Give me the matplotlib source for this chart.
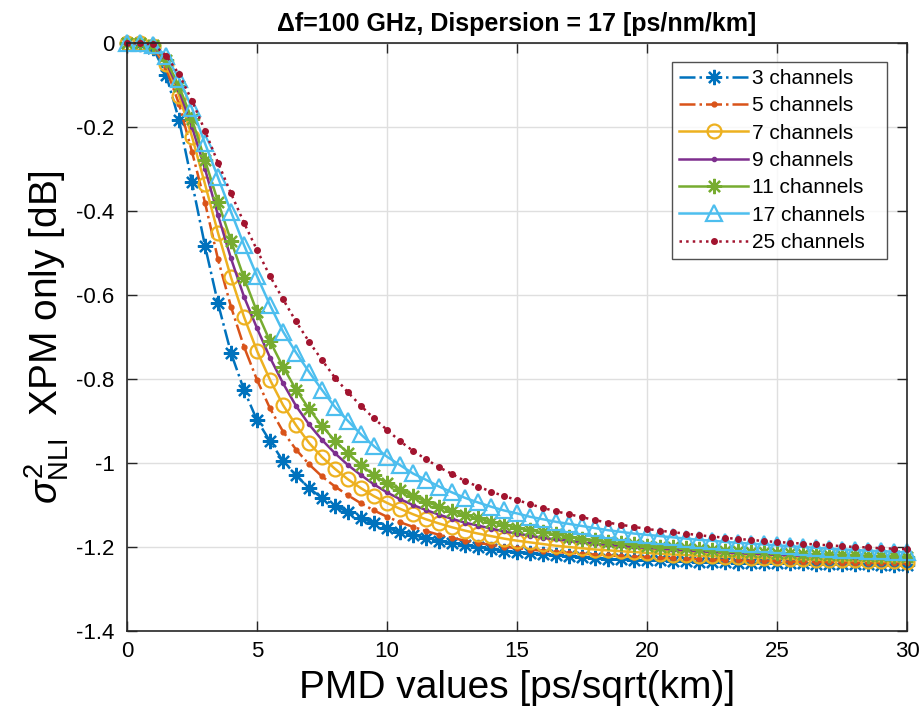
import numpy as np
import matplotlib
matplotlib.use("Agg")
import matplotlib.pyplot as plt

plt.rcParams['font.family'] = ['Liberation Sans', 'DejaVu Sans']
plt.rcParams['mathtext.fontset'] = 'custom'
plt.rcParams['mathtext.rm'] = 'Liberation Sans'
plt.rcParams['mathtext.it'] = 'Liberation Sans:italic'

# PMD values, sampled every 0.5 ps/sqrt(km)
pmd = np.arange(0, 30.5, 0.5)

ch3 = [0, -0.002, -0.012, -0.075, -0.183, -0.332, -0.483, -0.62, -0.738, -0.826,
       -0.898, -0.948, -0.995, -1.029, -1.06, -1.083, -1.102, -1.117, -1.131, -1.143,
       -1.155, -1.164, -1.171, -1.179, -1.186, -1.19, -1.195, -1.2, -1.205, -1.209,
       -1.212, -1.214, -1.217, -1.22, -1.222, -1.224, -1.226, -1.228, -1.229, -1.23,
       -1.231, -1.232, -1.233, -1.234, -1.235, -1.235, -1.236, -1.237, -1.237, -1.238,
       -1.238, -1.239, -1.239, -1.24, -1.24, -1.241, -1.241, -1.241, -1.242, -1.242, -1.242]
ch5 = [0, -0.001, -0.008, -0.06, -0.145, -0.259, -0.38, -0.515, -0.628, -0.723,
       -0.802, -0.87, -0.925, -0.968, -1.003, -1.032, -1.056, -1.077, -1.096, -1.113,
       -1.128, -1.141, -1.152, -1.162, -1.171, -1.178, -1.185, -1.19, -1.195, -1.199,
       -1.203, -1.206, -1.209, -1.212, -1.214, -1.216, -1.218, -1.22, -1.222, -1.223,
       -1.224, -1.226, -1.227, -1.228, -1.229, -1.23, -1.231, -1.232, -1.233, -1.233,
       -1.234, -1.235, -1.235, -1.236, -1.236, -1.237, -1.237, -1.238, -1.238, -1.239, -1.239]
ch7 = [0, -0.001, -0.007, -0.05, -0.125, -0.223, -0.336, -0.452, -0.558, -0.652,
       -0.733, -0.802, -0.862, -0.91, -0.952, -0.986, -1.014, -1.039, -1.06, -1.079,
       -1.095, -1.109, -1.122, -1.134, -1.144, -1.153, -1.161, -1.168, -1.174, -1.18,
       -1.185, -1.189, -1.193, -1.197, -1.2, -1.203, -1.206, -1.208, -1.21, -1.212,
       -1.214, -1.216, -1.218, -1.219, -1.221, -1.222, -1.223, -1.224, -1.225, -1.226,
       -1.227, -1.228, -1.229, -1.23, -1.231, -1.232, -1.232, -1.233, -1.234, -1.234, -1.235]
ch9 = [0, -0.001, -0.006, -0.045, -0.113, -0.2, -0.3, -0.41, -0.513, -0.604,
       -0.679, -0.749, -0.81, -0.864, -0.908, -0.945, -0.977, -1.005, -1.029, -1.051,
       -1.07, -1.086, -1.1, -1.112, -1.123, -1.133, -1.142, -1.149, -1.156, -1.163,
       -1.168, -1.173, -1.178, -1.182, -1.185, -1.189, -1.192, -1.195, -1.197, -1.2,
       -1.202, -1.204, -1.206, -1.208, -1.21, -1.212, -1.213, -1.215, -1.216, -1.217,
       -1.219, -1.22, -1.221, -1.222, -1.223, -1.224, -1.225, -1.226, -1.227, -1.227, -1.228]
ch11 = [0, -0.001, -0.005, -0.04, -0.103, -0.182, -0.279, -0.378, -0.471, -0.559,
        -0.64, -0.71, -0.771, -0.825, -0.871, -0.912, -0.947, -0.977, -1.005, -1.029,
        -1.048, -1.064, -1.079, -1.092, -1.104, -1.114, -1.124, -1.132, -1.14, -1.147,
        -1.154, -1.16, -1.165, -1.17, -1.175, -1.18, -1.184, -1.188, -1.191, -1.194,
        -1.197, -1.199, -1.201, -1.203, -1.205, -1.207, -1.209, -1.21, -1.212, -1.213,
        -1.214, -1.215, -1.216, -1.217, -1.218, -1.219, -1.22, -1.221, -1.222, -1.222, -1.223]
ch17 = [0, -0.001, -0.004, -0.03, -0.085, -0.155, -0.239, -0.32, -0.402, -0.481,
        -0.555, -0.624, -0.687, -0.737, -0.783, -0.826, -0.867, -0.9, -0.932, -0.96,
        -0.985, -1.005, -1.025, -1.04, -1.056, -1.07, -1.083, -1.094, -1.104, -1.113,
        -1.12, -1.128, -1.134, -1.14, -1.145, -1.15, -1.155, -1.16, -1.164, -1.168,
        -1.171, -1.174, -1.177, -1.18, -1.183, -1.185, -1.188, -1.19, -1.192, -1.194,
        -1.196, -1.198, -1.2, -1.202, -1.204, -1.206, -1.207, -1.209, -1.21, -1.211, -1.213]
ch25 = [0, -0.001, -0.003, -0.03, -0.074, -0.137, -0.209, -0.285, -0.358, -0.428,
        -0.493, -0.555, -0.61, -0.663, -0.711, -0.755, -0.797, -0.832, -0.864, -0.894,
        -0.921, -0.948, -0.971, -0.991, -1.01, -1.026, -1.043, -1.056, -1.068, -1.079,
        -1.088, -1.098, -1.107, -1.115, -1.122, -1.129, -1.136, -1.142, -1.147, -1.152,
        -1.157, -1.161, -1.165, -1.168, -1.172, -1.175, -1.178, -1.181, -1.183, -1.186,
        -1.188, -1.19, -1.192, -1.194, -1.196, -1.198, -1.2, -1.201, -1.203, -1.204, -1.205]

labels = ['3 channels', '5 channels', '7 channels', '9 channels',
          '11 channels', '17 channels', '25 channels']

fig = plt.figure(figsize=(9.19, 7.13), dpi=100)
ax = fig.add_axes([127/919, 1-631/713, 780/919, 588/713])

asterisk = (8, 2, 0)
lw = 1.8
ax.plot(pmd, ch3, color='#0072BD', ls='-.', lw=lw, marker=asterisk, ms=11, mew=1.6, label=labels[0], clip_on=False)
ax.plot(pmd, ch5, color='#D95319', ls='-.', lw=lw, marker='.', ms=7, label=labels[1], clip_on=False)
ax.plot(pmd, ch7, color='#EDB120', ls='-', lw=lw, marker='o', ms=10, mfc='none', mew=1.6, label=labels[2], clip_on=False)
ax.plot(pmd, ch9, color='#7E2F8E', ls='-', lw=lw, marker='.', ms=6, label=labels[3], clip_on=False)
ax.plot(pmd, ch11, color='#77AC30', ls='-', lw=lw, marker=asterisk, ms=11, mew=1.6, label=labels[4], clip_on=False)
ax.plot(pmd, ch17, color='#4DBEEE', ls='-', lw=lw, marker='^', ms=12, mfc='none', mew=1.6, label=labels[5], clip_on=False)
ax.plot(pmd, ch25, color='#A2142F', ls=':', lw=lw, marker='.', ms=8, label=labels[6], clip_on=False)

ax.set_xlim(0, 30)
ax.set_ylim(-1.4, 0)
ax.set_xticks([0, 5, 10, 15, 20, 25, 30])
ax.set_yticks([-1.4, -1.2, -1, -0.8, -0.6, -0.4, -0.2, 0])
ax.set_yticklabels(['-1.4', '-1.2', '-1', '-0.8', '-0.6', '-0.4', '-0.2', '0'])
ax.grid(True, color='#dfdfdf', lw=1)
ax.set_axisbelow(True)
ax.tick_params(direction='in', top=True, right=True, labelsize=16, length=7, color='#262626', width=1)
ax.tick_params(axis='y', pad=9)
ax.tick_params(axis='x', pad=7)
for s in ax.spines.values():
    s.set_color('#262626')
    s.set_linewidth(1.2)

ax.set_xlabel('PMD values [ps/sqrt(km)]', fontsize=28, labelpad=6)
ax.set_ylabel(r'$\sigma^2_{\rm NLI}$  XPM only [dB]', fontsize=28, labelpad=4)
ax.set_title('Δf=100 GHz, Dispersion = 17 [ps/nm/km]', fontsize=18, fontweight='bold', pad=9)

leg = ax.legend(loc='upper left', bbox_to_anchor=(0.6987, 0.5, 0.2756, 0.468), mode='expand',
                borderaxespad=0, fontsize=15, frameon=True, fancybox=False, edgecolor='#262626',
                handlelength=3.3, borderpad=0.35, labelspacing=0.4, handletextpad=0.2)
leg.get_frame().set_linewidth(1)

fig.savefig('out.png', dpi=100)
